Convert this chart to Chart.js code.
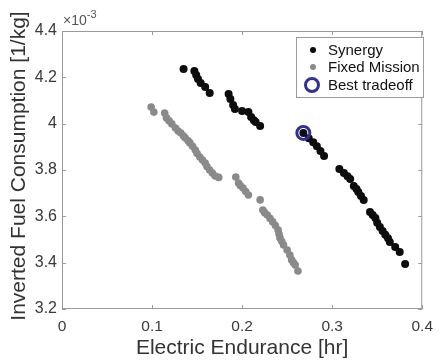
<!DOCTYPE html>
<html>
<head>
<meta charset="utf-8">
<script src="https://cdn.jsdelivr.net/npm/chart.js@4.4.1/dist/chart.umd.min.js"></script>
<style>
  html, body { margin: 0; padding: 0; background: #fff; }
  #wrap { width: 441px; height: 361px; position: relative; }
</style>
</head>
<body>
<div id="wrap"><canvas id="c" width="441" height="361"></canvas></div>
<script>
// Electric endurance [hr] and inverted fuel consumption [1/kg, in units of 1e-3]
const enduranceSynergy = [
  0.135, 0.147, 0.149, 0.151, 0.154, 0.159, 0.164,
  0.185, 0.187, 0.190, 0.192, 0.200, 0.207, 0.210, 0.213, 0.215, 0.220,
  0.268, 0.274, 0.279, 0.283, 0.287, 0.291,
  0.308, 0.313, 0.317, 0.320, 0.324, 0.327, 0.329, 0.332, 0.335,
  0.342, 0.345, 0.348, 0.350, 0.353, 0.356, 0.359, 0.362, 0.364, 0.370, 0.375, 0.381
];
const consumptionSynergy = [
  4.236, 4.227, 4.210, 4.193, 4.176, 4.158, 4.132,
  4.128, 4.107, 4.081, 4.063, 4.055, 4.050, 4.029, 4.015, 4.007, 3.990,
  3.960, 3.937, 3.920, 3.903, 3.882, 3.860,
  3.804, 3.787, 3.773, 3.761, 3.731, 3.718, 3.705, 3.688, 3.671,
  3.619, 3.606, 3.593, 3.572, 3.554, 3.537, 3.520, 3.505, 3.489, 3.468, 3.446, 3.394
];
const enduranceFixed = [
  0.099, 0.102,
  0.114, 0.116, 0.119, 0.122, 0.126, 0.129, 0.132, 0.135, 0.137, 0.140, 0.142, 0.145,
  0.148, 0.150, 0.153, 0.156, 0.159, 0.161, 0.164, 0.167, 0.170, 0.174,
  0.193, 0.196, 0.198, 0.201, 0.204, 0.207,
  0.220, 0.223, 0.225, 0.228, 0.231, 0.234, 0.237, 0.240, 0.241, 0.242, 0.244,
  0.246, 0.250, 0.253, 0.255, 0.257, 0.259, 0.262
];
const consumptionFixed = [
  4.072, 4.050,
  4.046, 4.025, 4.012, 3.999, 3.981, 3.968, 3.960, 3.947, 3.938, 3.926, 3.917, 3.902,
  3.886, 3.871, 3.856, 3.843, 3.830, 3.815, 3.800, 3.787, 3.774, 3.768,
  3.770, 3.744, 3.733, 3.722, 3.707, 3.692,
  3.671, 3.627, 3.616, 3.606, 3.591, 3.576, 3.560, 3.541, 3.524, 3.507, 3.492,
  3.476, 3.455, 3.433, 3.412, 3.400, 3.390, 3.364
];
const bestTradeoffEndurance = [0.268];
const bestTradeoffConsumption = [3.960];

const xTicks = [0, 0.1, 0.2, 0.3, 0.4];
const yTicks = [3.2, 3.4, 3.6, 3.8, 4.0, 4.2, 4.4];
const seriesNames = ['Synergy', 'Fixed Mission', 'Best tradeoff'];
const xTitle = 'Electric Endurance [hr]';
const yTitle = 'Inverted Fuel Consumption [1/kg]';

const toPoints = (xs, ys) => xs.map((x, i) => ({ x: x, y: ys[i] }));

const FONT = 'Arial, "Liberation Sans", Helvetica, sans-serif';
const frameColor = '#9a9a9a';
const textColor = '#3a3a3a';

// Box around the axes, inward tick marks, y title, exponent label and legend
const decorations = {
  id: 'decorations',
  afterDatasetsDraw(chart) {
    const { ctx, chartArea: a, scales } = chart;
    ctx.save();
    ctx.strokeStyle = frameColor;
    ctx.lineWidth = 1;
    ctx.strokeRect(a.left + 0.5, a.top + 0.5, a.right - a.left - 1, a.bottom - a.top - 1);
    const tl = 4;
    ctx.beginPath();
    xTicks.forEach(v => {
      const px = Math.round(scales.x.getPixelForValue(v)) + 0.5;
      ctx.moveTo(px, a.bottom); ctx.lineTo(px, a.bottom - tl);
      ctx.moveTo(px, a.top); ctx.lineTo(px, a.top + tl);
    });
    yTicks.forEach(v => {
      const py = Math.round(scales.y.getPixelForValue(v)) + 0.5;
      ctx.moveTo(a.left, py); ctx.lineTo(a.left + tl, py);
      ctx.moveTo(a.right, py); ctx.lineTo(a.right - tl, py);
    });
    ctx.stroke();

    // y axis title
    ctx.save();
    ctx.translate(19, (a.top + a.bottom) / 2 - 4);
    ctx.rotate(-Math.PI / 2);
    ctx.fillStyle = '#333';
    ctx.font = '21px ' + FONT;
    ctx.textAlign = 'center';
    ctx.textBaseline = 'middle';
    ctx.fillText(yTitle, 0, 0);
    ctx.restore();

    // ×10^-3 exponent
    ctx.fillStyle = '#555';
    ctx.textBaseline = 'alphabetic';
    ctx.textAlign = 'left';
    ctx.font = '14px ' + FONT;
    ctx.fillText('\u00d710', a.left + 1, a.top - 6);
    const w = ctx.measureText('\u00d710').width;
    ctx.font = '11px ' + FONT;
    ctx.fillText('-3', a.left + 1 + w, a.top - 13);

    // legend
    const lx = 296, ly = 37, lw = 127, lh = 60;
    ctx.fillStyle = '#fff';
    ctx.fillRect(lx, ly, lw, lh);
    ctx.strokeStyle = frameColor;
    ctx.strokeRect(lx + 0.5, ly + 0.5, lw, lh);
    const rows = [50, 67, 85];
    const ds = chart.data.datasets;
    ctx.font = '15px ' + FONT;
    ctx.textBaseline = 'middle';
    rows.forEach((ry, i) => {
      const d = ds[i];
      ctx.beginPath();
      if (i < 2) {
        ctx.fillStyle = d.backgroundColor;
        ctx.arc(313, ry, 3, 0, Math.PI * 2);
        ctx.fill();
      } else {
        ctx.strokeStyle = d.borderColor;
        ctx.lineWidth = 3;
        ctx.arc(312, ry, 6.5, 0, Math.PI * 2);
        ctx.stroke();
      }
      ctx.fillStyle = '#111';
      ctx.fillText(seriesNames[i], 328, ry + 1);
    });
    ctx.restore();
  }
};

new Chart(document.getElementById('c'), {
  type: 'scatter',
  data: {
    datasets: [
      {
        label: seriesNames[0],
        data: toPoints(enduranceSynergy, consumptionSynergy),
        backgroundColor: '#0d0d0d',
        borderWidth: 0,
        pointRadius: 4,
        order: 2
      },
      {
        label: seriesNames[1],
        data: toPoints(enduranceFixed, consumptionFixed),
        backgroundColor: '#8a8a8a',
        borderWidth: 0,
        pointRadius: 3.8,
        order: 3
      },
      {
        label: seriesNames[2],
        data: toPoints(bestTradeoffEndurance, bestTradeoffConsumption),
        backgroundColor: 'rgba(0,0,0,0)',
        borderColor: '#2f3196',
        borderWidth: 3,
        pointRadius: 6.5,
        order: 1
      }
    ]
  },
  options: {
    responsive: false,
    animation: false,
    devicePixelRatio: 1,
    layout: { padding: { top: 31, right: 11, left: 0, bottom: 0 } },
    plugins: { legend: { display: false }, tooltip: { enabled: false } },
    scales: {
      x: {
        type: 'linear',
        min: 0, max: 0.4,
        afterBuildTicks: s => { s.ticks = xTicks.map(v => ({ value: v })); },
        afterFit: s => { s.height = 52; },
        grid: { display: false, drawTicks: false, tickLength: 0 },
        border: { display: false },
        ticks: {
          color: textColor,
          font: { family: FONT, size: 15.5 },
          padding: 8,
          maxRotation: 0,
          callback: v => String(+v.toFixed(1))
        },
        title: {
          display: true,
          text: xTitle,
          color: '#333',
          font: { family: FONT, size: 21 },
          padding: 0
        }
      },
      y: {
        type: 'linear',
        min: 3.2, max: 4.4,
        afterBuildTicks: s => { s.ticks = yTicks.map(v => ({ value: v })); },
        afterFit: s => { s.width = 62; },
        grid: { display: false, drawTicks: false, tickLength: 0 },
        border: { display: false },
        ticks: {
          color: textColor,
          font: { family: FONT, size: 16 },
          padding: 5,
          callback: v => String(+v.toFixed(1))
        }
      }
    }
  },
  plugins: [decorations]
});
</script>
</body>
</html>
